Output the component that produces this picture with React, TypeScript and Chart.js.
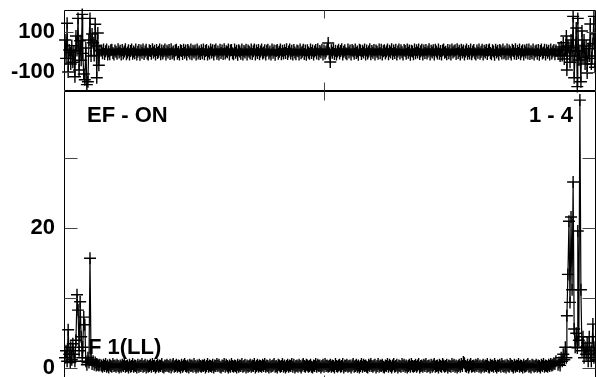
import React, { useEffect, useRef } from "react";
import { Chart, registerables } from "chart.js";
Chart.register(...registerables);

// ---- data (channel, residual, counts) ----
const chLeft = [2, 4, 6, 8, 10, 12, 13, 15, 17, 19, 21, 23, 25, 27, 29, 31, 33, 35, 36, 38, 40, 42, 44, 46, 48, 50, 52, 54, 56, 58, 60, 62, 63, 65, 67, 69];
const resLeft = [60, -32, 144, -100, 10, -2, -60, 32, -51, 5, -124, 80, 7, 168, -90, 56, -41, 188, -7, -110, -139, 20, -163, -149, 60, 168, -20, 90, 46, -17, 139, 30, -129, 95, -66, 7];
const cntLeft = [1.5, 2.5, 1.0, 5.5, 2.0, 0.8, 3.0, 1.2, 3.5, 2.0, 1.0, 4.0, 10.5, 8.3, 2.5, 9.5, 4.5, 1.5, 3.0, 7.3, 6.2, 1.0, 0.5, 1.5, 0.8, 15.7, 1.2, 0.6, 1.0, 0.5, 0.8, 0.4, 0.6, 0.5, 0.4, 0.5];

const midStart = 72;
const midStep = 2;
const resMid = [
  8, -6, 12, -10, 4, 13, -12, 2, -11, 9, 11, -5, -13, 7, 1, -9, 14, -3, 6, -12,
  10, -8, 3, 14, -11, -2, 9, -13, 5, 12, -9, 3, -6, 13, -12, 1, 10, -14, 7, -4,
  12, -10, 2, 11, -7, -13, 9, 5, -9, 14, -2, 6, -12, 10, -5, 1, 13, -11, 8, -8,
  4, 12, -13, 6, -3, 10, -10, 14, -6, 2, -12, 8, 11, -9, 0, -13, 9, 5, -10, 11,
  -4, 7, -13, 10, 3, -8, 13, -11, 6, -2, 8, -12, 12, -7, 2, -10, 9, -6, 13, -11,
  5, 10, -13, 3, -7, 12, -3, 9, -12, 6, 13, -9, 2, -13, 11, -5, 8, -10, 14, -8,
  4, -1, 12, -13, 7, 10, -6, -11, 12, -4, 6, -14, 9, 3, -9, 13, -12, 5, -2, 11,
  -13, 8, 1, -7, 13, -10, 4, 12, -12, 7, -5, 10, -11, 2, 13, -8, -3, 9, -13, 6,
  11, -7, 3, -12, 12, -4, 8, -14, 5, 10, -9, 1, 12, -11, 6, -8, 9, -5, 14, -10,
  2, 13, -8, 6, -12, 10, -3, -11, 8, 4, -13, 12, -6, 1, 11, -10, 7, -14, 9, -2,
  -9, 12, -5, 8, -13, 3, 10, -7, 14, -11, 5, -3, 11, -12, 7, -8, 2, 13, 45, -6,
  -50, 9, -4, 12, -10, 6, -13, 3, 11, -8, 5, 14, -12, 1, 9, -6, -11, 13, -3, 7,
  -12, 10, 4, -9, 13, -5, 2, -14, 11, 7, -10, 6, -2, 12, -13, 8, -7, 3, 14, -11,
  5, -4, 10, -12, 8, 1, -9, 13, -6, 11, -13, 4, 9, -8, 2, 12, -11, 6, -3, 14,
  -10, 7, -5, 11, -13, 3, 12, -7, 9, -1, -12, 10, 5, -9, 13, -4, 8, -14, 6, 2,
  -11, 13, -6, 9, -2, 12, -10, 4, 11, -13, 7, -5, 10, -8, 3, 14, -12, 6, -3, 9,
  -13, 11, 2, -7, 12, -9, 5, -12, 8, 13, -4, 1, -11, 10, -6, 7, -13, 12, -2, 4,
  9, -10, 14, -5, 6, -12, 11, -3, 8, -13, 2, 12, -9, 5, -7, 13, -11, 3, 10, -6,
  -12, 8, -4, 13, -9, 1, 11, -13, 6, -2, 10, -10, 7, 12, -5, -11, 9, 3, -14, 11,
  -3, 6, -12, 10, 4, -8, 13, -6, 2, -11, 12, -9, 8, -1, -13, 11, 5, -7, 14, -10,
  6, -5, 12, -11, 3, 9, -13, 7, -2, 11, -8, 13, -10, 4, -6, 12, -12, 2, 8, -9,
  10, -14, 5, 13, -7, -2, 11, -12, 9, -4, 6, -13, 12, -8, 3, 10, -11, 7,
];
const cntMid = [
  0.4, 0.2, 0.5, 0.3, 0.6, 0.2, 0.4, 0.1, 0.5, 0.3, 0.2, 0.6, 0.3, 0.4, 0.2, 0.5, 0.3, 0.1, 0.4, 0.2,
  0.5, 0.3, 0.6, 0.2, 0.3, 0.4, 0.1, 0.5, 0.2, 0.3, 0.6, 0.2, 0.4, 0.3, 0.1, 0.5, 0.2, 0.4, 0.3, 0.6,
  0.2, 0.3, 0.5, 0.1, 0.4, 0.2, 0.3, 0.5, 0.2, 0.6, 0.3, 0.4, 0.1, 0.3, 0.5, 0.2, 0.4, 0.3, 0.6, 0.2,
  0.1, 0.4, 0.3, 0.5, 0.3, 0.2, 0.5, 0.1, 0.4, 0.6, 0.2, 0.3, 0.5, 0.2, 0.4, 0.3, 0.1, 0.5, 0.2, 0.4,
  0.6, 0.3, 0.2, 0.4, 0.1, 0.5, 0.3, 0.4, 0.2, 0.6, 0.3, 0.1, 0.4, 0.2, 0.5, 0.3, 0.2, 0.4, 0.3, 0.5,
  0.1, 0.3, 0.6, 0.2, 0.4, 0.3, 0.2, 0.5, 0.1, 0.4, 0.3, 0.6, 0.3, 0.5, 0.2, 0.1, 0.4, 0.3, 0.6, 0.2,
  0.5, 0.3, 0.1, 0.4, 0.2, 0.6, 0.3, 0.2, 0.4, 0.3, 0.1, 0.5, 0.2, 0.4, 0.3, 0.6, 0.2, 0.3, 0.5, 0.1,
  0.4, 0.2, 0.3, 0.5, 0.2, 0.4, 0.3, 0.6, 0.1, 0.3, 0.5, 0.2, 0.4, 0.3, 0.2, 0.5, 0.3, 0.6, 0.2, 0.4,
  0.3, 0.1, 0.5, 0.2, 0.3, 0.4, 0.6, 0.2, 0.3, 0.1, 0.5, 0.4, 0.2, 0.3, 0.6, 0.2, 0.4, 0.1, 0.3, 0.5,
  0.2, 0.4, 0.3, 0.6, 0.2, 0.5, 0.1, 0.3, 0.4, 0.2, 0.5, 0.3, 0.1, 0.4, 0.6, 0.3, 0.2, 0.5, 0.4, 0.2,
  0.3, 0.5, 0.2, 0.1, 0.4, 0.3, 0.6, 0.2, 0.5, 0.3, 0.4, 0.1, 0.3, 0.5, 0.2, 0.6, 0.3, 0.4, 0.2, 0.3,
  0.5, 0.2, 0.4, 0.3, 0.1, 0.6, 0.3, 0.2, 0.4, 0.5, 0.2, 0.3, 0.6, 0.1, 0.4, 0.3, 0.5, 0.2, 0.3, 0.4,
  0.1, 0.4, 0.6, 0.2, 0.3, 0.5, 0.2, 0.4, 0.1, 0.3, 0.6, 0.2, 0.5, 0.3, 0.4, 0.2, 0.1, 0.5, 0.3, 0.6,
  0.3, 0.2, 0.4, 0.5, 0.1, 0.3, 0.6, 0.2, 0.4, 0.3, 0.5, 0.2, 0.1, 0.4, 0.3, 0.6, 0.2, 0.5, 0.3, 0.1,
  0.4, 0.6, 0.2, 0.3, 0.5, 0.1, 0.4, 0.3, 0.2, 0.6, 0.3, 0.5, 0.2, 0.4, 0.1, 0.3, 0.5, 0.2, 0.6, 0.3,
  0.2, 0.3, 0.5, 0.2, 0.4, 0.6, 0.1, 0.3, 0.4, 0.2, 0.5, 0.3, 0.6, 0.2, 0.3, 0.4, 0.1, 0.5, 0.2, 0.4,
  0.6, 0.2, 0.3, 0.4, 0.1, 0.5, 0.3, 0.2, 0.6, 0.4, 0.2, 0.3, 0.5, 0.1, 0.4, 0.3, 0.2, 0.6, 0.3, 0.5,
  0.2, 0.4, 0.1, 0.3, 0.5, 0.2, 0.6, 0.3, 0.9, 0.7, 0.3, 0.2, 0.5, 0.1, 0.4, 0.6, 0.2, 0.3, 0.4, 0.2,
  0.5, 0.3, 0.6, 0.2, 0.4, 0.1, 0.3, 0.5, 0.2, 0.4, 0.3, 0.6, 0.2, 0.1, 0.5, 0.3, 0.4, 0.2, 0.6, 0.3,
  0.1, 0.4, 0.3, 0.5, 0.2, 0.6, 0.3, 0.2, 0.4, 0.1, 0.5, 0.3, 0.2, 0.6, 0.4, 0.3, 0.1, 0.5, 0.2, 0.4,
  0.3, 0.6, 0.2, 0.4, 0.3, 0.1, 0.5, 0.2, 0.3, 0.4, 0.6, 0.2, 0.3, 0.1, 0.5, 0.4, 0.2, 0.3, 0.5, 0.2,
  0.4, 0.3, 0.1, 0.5, 0.3, 0.6, 0.2, 0.4, 0.3, 0.2, 0.5, 0.3, 0.6, 0.4, 0.5, 0.7, 0.6, 1.0,
];

const chRight = [950, 952, 954, 956, 958, 960, 962, 964, 966, 967, 969, 971, 973, 975, 977, 979, 981, 983, 985, 987, 988, 990, 992, 994, 996, 998, 1000, 1002, 1004, 1006, 1008, 1010, 1012, 1014, 1015, 1017, 1019, 1021, 1023];
const resRight = [-10, 15, -20, 25, -17, 46, -35, 10, 80, -90, 30, 22, -51, 60, -20, 178, -129, 5, 120, -173, 168, -40, 7, -149, 105, -27, 60, -60, 30, -105, 17, -20, 140, -60, -32, 41, 178, -76, 90];
const cntRight = [0.5, 0.8, 0.4, 1.5, 1.0, 2.0, 1.2, 3.0, 1.5, 7.5, 13.4, 21.0, 9.4, 21.6, 11.2, 26.6, 5.6, 3.0, 5.0, 2.9, 19.6, 4.0, 38.3, 11.2, 2.5, 4.5, 1.5, 3.0, 2.0, 3.6, 1.0, 4.5, 2.0, 1.0, 2.5, 6.3, 1.5, 3.0, 1.2];

// ---- axes ----
const xRange = [0, 1023];
const xTicks = [500];
const topRange = [-195, 210];
const topTicks = [-100, 100];
const topTickLabels = ["-100", "100"];
const bottomRange = [-2.4, 39.6];
const bottomTicks = [0, 10, 20, 30];
const bottomTickLabels = ["0", "", "20", ""];

const titleLeft = "EF - ON";
const titleRight = "1 - 4";
const bottomNote = "F 1(LL)";

const FONT = "bold 22px 'Liberation Sans', Arial, sans-serif";

function buildPoints(left: number[], mid: number[], right: number[]) {
  const pts: { x: number; y: number }[] = [];
  chLeft.forEach((c, i) => pts.push({ x: c, y: left[i] }));
  mid.forEach((v, i) => pts.push({ x: midStart + i * midStep, y: v }));
  chRight.forEach((c, i) => pts.push({ x: c, y: right[i] }));
  return pts;
}

function makeFramePlugin(yTicks: number[], yTickLen: number, xTickLen: number, texts: (chart: any) => void) {
  return {
    id: "frame",
    afterDatasetsDraw(chart: any) {
      texts(chart);
    },
    afterDraw(chart: any) {
      const { ctx, chartArea: a, scales } = chart;
      ctx.save();
      ctx.strokeStyle = "#000";
      ctx.lineWidth = 1;
      const L = Math.round(a.left) + 0.5;
      const R = Math.round(a.right) - 0.5;
      const T = Math.round(a.top) + 0.5;
      const B = Math.round(a.bottom) - 0.5;
      ctx.beginPath();
      ctx.rect(L, T, R - L, B - T);
      ctx.stroke();
      ctx.strokeStyle = "#444";
      ctx.beginPath();
      for (const v of yTicks) {
        const y = Math.round(scales.y.getPixelForValue(v)) + 0.5;
        ctx.moveTo(L, y);
        ctx.lineTo(L + yTickLen, y);
        ctx.moveTo(R - yTickLen, y);
        ctx.lineTo(R, y);
      }
      for (const v of xTicks) {
        const x = Math.round(scales.x.getPixelForValue(v)) + 0.5;
        ctx.moveTo(x, T);
        ctx.lineTo(x, T + xTickLen);
        ctx.moveTo(x, B - xTickLen);
        ctx.lineTo(x, B);
      }
      ctx.stroke();
      ctx.restore();
    },
  };
}

function makeConfig(
  points: { x: number; y: number }[],
  range: number[],
  ticks: number[],
  labels: string[],
  padTop: number,
  padBottom: number,
  plugin: any
): any {
  return {
    type: "line",
    data: {
      datasets: [
        {
          data: points,
          borderColor: "#000",
          borderWidth: 1.2,
          pointStyle: "cross",
          pointRadius: 6,
          pointBorderColor: "#000",
          pointBorderWidth: 1.4,
          pointBackgroundColor: "#000",
          fill: false,
          tension: 0,
          clip: false,
        },
      ],
    },
    options: {
      animation: false,
      responsive: false,
      maintainAspectRatio: false,
      events: [],
      layout: { padding: { left: 0, right: 0, top: padTop, bottom: padBottom }, autoPadding: false },
      plugins: { legend: { display: false }, tooltip: { enabled: false }, title: { display: false } },
      scales: {
        x: { type: "linear", min: xRange[0], max: xRange[1], display: false },
        y: {
          type: "linear",
          min: range[0],
          max: range[1],
          grid: { display: false, drawTicks: false },
          border: { display: false },
          afterBuildTicks: (s: any) => {
            s.ticks = ticks.map((v) => ({ value: v }));
          },
          afterFit: (s: any) => {
            s.width = 64;
            s.paddingTop = 0;
            s.paddingBottom = 0;
            s.paddingLeft = 0;
            s.paddingRight = 0;
          },
          ticks: {
            padding: 9,
            color: "#000",
            autoSkip: false,
            font: { family: "'Liberation Sans', Arial, sans-serif", size: 22, weight: "bold" },
            callback: (_v: any, i: number) => labels[i] ?? "",
          },
        },
      },
    },
    plugins: [plugin],
  };
}

export default function App() {
  const topRef = useRef<HTMLCanvasElement>(null);
  const botRef = useRef<HTMLCanvasElement>(null);

  useEffect(() => {
    const topPlugin = makeFramePlugin(topTicks, 9, 8, () => {});
    const botPlugin = makeFramePlugin(bottomTicks, 13, 9, (chart: any) => {
      const { ctx, chartArea: a } = chart;
      ctx.save();
      ctx.font = FONT;
      ctx.fillStyle = "#000";
      ctx.textBaseline = "middle";
      ctx.textAlign = "left";
      ctx.fillText(titleLeft, a.left + 23, a.top + 25);
      ctx.fillText(bottomNote, a.left + 24, a.top + 257);
      ctx.textAlign = "right";
      ctx.fillText(titleRight, a.right - 23, a.top + 25);
      ctx.restore();
    });
    const top = new Chart(
      topRef.current!,
      makeConfig(buildPoints(resLeft, resMid, resRight), topRange, topTicks, topTickLabels, 10, 377 - 91, topPlugin)
    );
    const bot = new Chart(
      botRef.current!,
      makeConfig(buildPoints(cntLeft, cntMid, cntRight), bottomRange, bottomTicks, bottomTickLabels, 91, 10, botPlugin)
    );
    return () => {
      top.destroy();
      bot.destroy();
    };
  }, []);

  return (
    <div style={{ position: "fixed", left: 0, top: 0, width: 596, height: 377, background: "#fff", overflow: "hidden" }}>
      <canvas ref={botRef} width={596} height={395} style={{ position: "absolute", left: 0, top: 0 }} />
      <canvas ref={topRef} width={596} height={377} style={{ position: "absolute", left: 0, top: 0 }} />
    </div>
  );
}
